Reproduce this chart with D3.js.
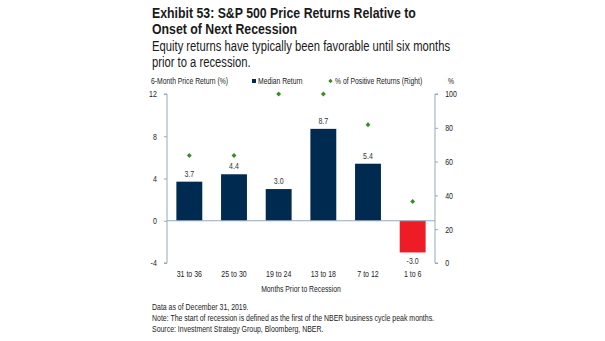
<!DOCTYPE html>
<html>
<head>
<meta charset="utf-8">
<script src="https://cdn.jsdelivr.net/npm/d3@7"></script>
<style>
  body { margin: 0; background: #fff; }
  svg text { font-family: "Liberation Sans", Arial, sans-serif; }
</style>
</head>
<body>
<div id="chart"></div>
<script>
const width = 605, height = 341;

// median 6-month return and share of positive returns per window
const periods = ["31 to 36", "25 to 30", "19 to 24", "13 to 18", "7 to 12", "1 to 6"];
const medianReturn = [3.7, 4.4, 3.0, 8.7, 5.4, -3.0];
const pctPositive = [63.6, 63.6, 100, 100, 81.8, 36.4];
const leftTicks = [-4, 0, 4, 8, 12];
const rightTicks = [0, 20, 40, 60, 80, 100];

const navy = "#002a4f", red = "#ee1c25", green = "#3c8a2e", axisColor = "#95a9be";
const ink = "#222";

const plotLeft = 167, plotRight = 435, plotTop = 94, plotBottom = 263;

// plain hyphen for negatives
const fmtInt = d3.formatLocale({minus: "-", decimal: ".", thousands: ",", grouping: [3], currency: ["$", ""]});
const fmt0 = fmtInt.format("d"), fmt1 = fmtInt.format(".1f");

const svg = d3.select("#chart").append("svg")
    .attr("width", width)
    .attr("height", height);

// condensed text: squeeze the glyphs horizontally around the anchor
function label(parent, x, y, str, size, sx, opts = {}) {
  return parent.append("text")
      .attr("transform", `translate(${x},${y}) scale(${sx},1)`)
      .attr("text-anchor", opts.anchor || "start")
      .style("font-size", size + "px")
      .style("font-weight", opts.weight || "normal")
      .style("fill", opts.fill || ink)
      .text(str);
}

const x = d3.scaleBand()
    .domain(periods)
    .range([plotLeft, plotRight])
    .paddingInner(0.42)
    .paddingOuter(0.21);

const yLeft = d3.scaleLinear().domain([-4, 12]).range([plotBottom, plotTop]);
const yRight = d3.scaleLinear().domain([0, 100]).range([plotBottom, plotTop]);

// titles
label(svg, 152, 18, "Exhibit 53: S&P 500 Price Returns Relative to", 14.5, 0.85, {weight: "bold", fill: "#1a1a1a"});
label(svg, 152, 34, "Onset of Next Recession", 14.5, 0.85, {weight: "bold", fill: "#1a1a1a"});
label(svg, 152, 51, "Equity returns have typically been favorable until six months", 15, 0.75, {fill: "#1a1a1a"});
label(svg, 152, 67, "prior to a recession.", 15, 0.75, {fill: "#1a1a1a"});

// legend row
label(svg, 151, 84, "6-Month Price Return (%)", 8.5, 0.8);
svg.append("rect").attr("x", 252).attr("y", 79).attr("width", 4).attr("height", 4).attr("fill", navy);
label(svg, 258, 84, "Median Return", 8.5, 0.8);
svg.append("path").attr("d", d3.symbol(d3.symbolDiamond2, 12)())
    .attr("transform", "translate(330.5,81)").attr("fill", green);
label(svg, 335, 84, "% of Positive Returns (Right)", 8.5, 0.8);
label(svg, 451, 84, "%", 8.5, 0.8, {anchor: "middle"});

// axes
const gLeft = svg.append("g").attr("transform", `translate(${plotLeft},0)`)
    .call(d3.axisLeft(yLeft).tickValues(leftTicks).tickSize(3).tickPadding(10).tickFormat(fmt0));
const gRight = svg.append("g").attr("transform", `translate(${plotRight},0)`)
    .call(d3.axisRight(yRight).tickValues(rightTicks).tickSize(3).tickPadding(10).tickFormat(fmt0));
[gLeft, gRight].forEach(g => {
  g.select(".domain").attr("stroke", axisColor);
  g.selectAll(".tick line").attr("stroke", axisColor);
  g.selectAll(".tick text")
      .attr("transform", "scale(0.78,1)")
      .style("font-size", "9px").style("fill", ink)
      .style("font-family", "'Liberation Sans', Arial, sans-serif");
});
gLeft.select(".domain").attr("d", `M-3,${plotTop}H0V${plotBottom}H-3`);
gRight.select(".domain").attr("d", `M3,${plotTop}H0V${plotBottom}H3`);

// bars
svg.append("g").selectAll("rect")
  .data(periods)
  .join("rect")
    .attr("x", d => x(d))
    .attr("width", x.bandwidth())
    .attr("y", (d, i) => yLeft(Math.max(0, medianReturn[i])))
    .attr("height", (d, i) => Math.abs(yLeft(medianReturn[i]) - yLeft(0)))
    .attr("fill", (d, i) => medianReturn[i] < 0 ? red : navy);

// zero line
svg.append("line")
    .attr("x1", plotLeft).attr("x2", plotRight)
    .attr("y1", yLeft(0)).attr("y2", yLeft(0))
    .attr("stroke", axisColor).attr("stroke-width", 1);

// value labels
const valueLabels = svg.append("g");
periods.forEach((p, i) => {
  const v = medianReturn[i];
  const ly = v < 0 ? yLeft(v) + 12 : yLeft(v) - 5;
  label(valueLabels, x(p) + x.bandwidth() / 2, ly, fmt1(v), 9, 0.78, {anchor: "middle", fill: "#333"});
});

// % positive markers
svg.append("g").selectAll("path")
  .data(periods)
  .join("path")
    .attr("d", d3.symbol(d3.symbolDiamond2, 15)())
    .attr("transform", (d, i) => `translate(${x(d) + x.bandwidth() / 2},${yRight(pctPositive[i])})`)
    .attr("fill", green);

// category labels
const cats = svg.append("g");
periods.forEach(p => label(cats, x(p) + x.bandwidth() / 2, 277, p, 9, 0.78, {anchor: "middle"}));

label(svg, (plotLeft + plotRight) / 2, 292, "Months Prior to Recession", 8.5, 0.8, {anchor: "middle"});

// footnotes
const notes = [
  "Data as of December 31, 2019.",
  "Note: The start of recession is defined as the first of the NBER business cycle peak months.",
  "Source: Investment Strategy Group, Bloomberg, NBER."
];
const foot = svg.append("g");
notes.forEach((n, i) => label(foot, 152, 310 + i * 11, n, 8.8, 0.79));
</script>
</body>
</html>
